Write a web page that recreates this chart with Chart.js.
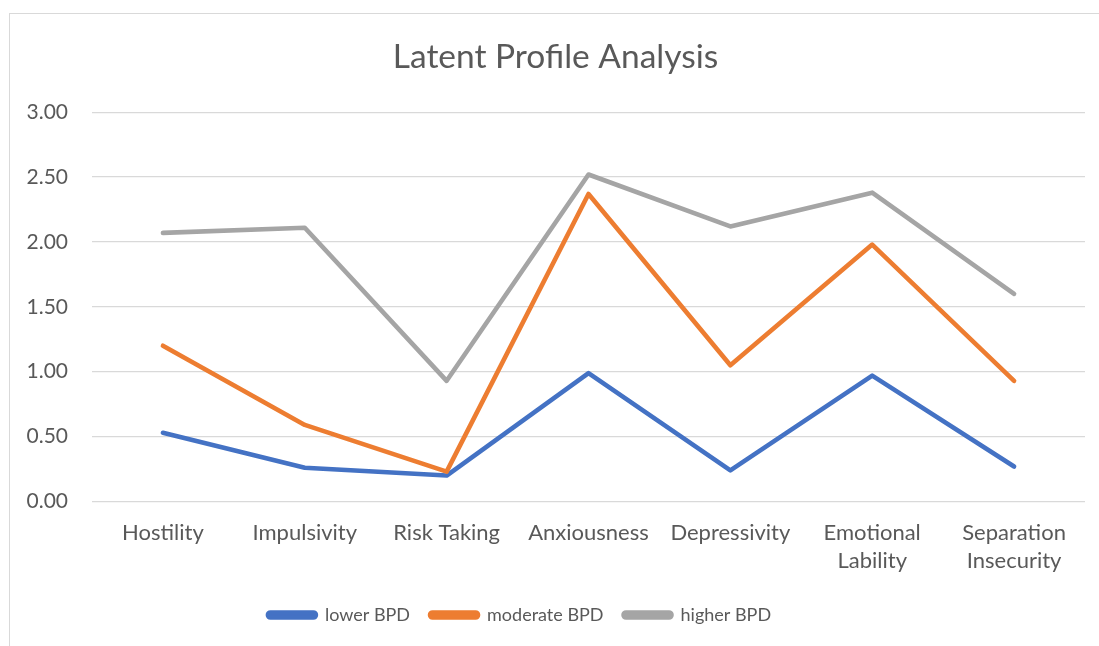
<!DOCTYPE html>
<html>
<head>
<meta charset="utf-8">
<script src="https://cdn.jsdelivr.net/npm/chart.js@4.4.1/dist/chart.umd.min.js"></script>
<style>
  html, body { margin: 0; padding: 0; background: #ffffff; overflow: hidden; }
  #frame { position: absolute; left: 9px; top: 13px; width: 1300px; height: 1000px; border: 1px solid #d9d9d9; }
  #wrap { position: absolute; left: 0; top: 0; width: 1099px; height: 646px; }
</style>
</head>
<body>
<div id="frame"></div>
<div id="wrap"><canvas id="c" width="1099" height="646"></canvas></div>
<script>
const categories = ["Hostility", "Impulsivity", "Risk Taking", "Anxiousness", "Depressivity", ["Emotional", "Lability"], ["Separation", "Insecurity"]];
const lowerBPD = [0.53, 0.26, 0.20, 0.99, 0.24, 0.97, 0.27];
const moderateBPD = [1.20, 0.59, 0.23, 2.37, 1.05, 1.98, 0.93];
const higherBPD = [2.07, 2.11, 0.93, 2.52, 2.12, 2.38, 1.60];
const seriesNames = ["lower BPD", "moderate BPD", "higher BPD"];
const yTicks = [0, 0.5, 1, 1.5, 2, 2.5, 3];

const FONT = "Lato";
const TXT = "#595959";

const mk = (label, data, color, order) => ({
  label, data, borderColor: color, backgroundColor: color,
  borderWidth: 4.6, pointRadius: 0, pointHoverRadius: 0, tension: 0,
  borderCapStyle: 'round', borderJoinStyle: 'round', fill: false, order
});

const boxShift = {
  id: 'boxShift',
  afterLayout(chart) {
    chart.legend.right -= 46;
    chart.titleBlock.left += 26;
  }
};

const chart = new Chart(document.getElementById('c'), {
  type: 'line',
  data: {
    labels: categories,
    datasets: [
      mk(seriesNames[0], lowerBPD, '#4472C4', 3),
      mk(seriesNames[1], moderateBPD, '#ED7D31', 2),
      mk(seriesNames[2], higherBPD, '#A5A5A5', 1)
    ]
  },
  options: {
    responsive: false,
    animation: false,
    devicePixelRatio: 1,
    layout: { padding: { left: 0, right: 14, top: 0, bottom: 12 } },
    plugins: {
      title: {
        display: true, text: 'Latent Profile Analysis', color: TXT,
        font: { family: FONT, size: 33.5, weight: 'normal', lineHeight: 1.2 },
        padding: { top: 37, bottom: 35 }
      },
      legend: {
        position: 'bottom',
        labels: {
          color: TXT, font: { family: FONT, size: 18 },
          boxWidth: 48, boxHeight: 5, useBorderRadius: true, borderRadius: 2.5,
          padding: 20,
          sort: (a, b) => a.datasetIndex - b.datasetIndex
        }
      },
      tooltip: { enabled: false }
    },
    scales: {
      x: {
        offset: true,
        afterFit: s => { s.height = 84.5; },
        grid: { display: false, drawTicks: false },
        border: { display: false },
        ticks: { color: TXT, font: { family: FONT, size: 22, lineHeight: 1.28 }, padding: 17, maxRotation: 0, autoSkip: false }
      },
      y: {
        min: 0, max: 3,
        afterBuildTicks: s => { s.ticks = yTicks.map(v => ({ value: v })); },
        afterFit: s => { s.width = 92; },
        grid: { color: '#D9D9D9', lineWidth: 1.3, drawTicks: false },
        border: { display: false },
        ticks: { color: TXT, font: { family: FONT, size: 21 }, padding: 24, callback: v => Number(v).toFixed(2) }
      }
    }
  },
  plugins: [boxShift]
});
</script>
</body>
</html>
